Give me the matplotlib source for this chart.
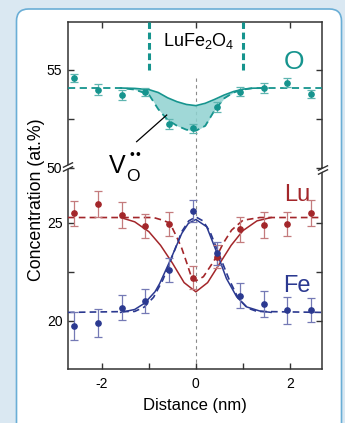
import numpy as np
import matplotlib.pyplot as plt
from matplotlib.patches import FancyBboxPatch, Polygon
from matplotlib.transforms import IdentityTransform
from matplotlib.lines import Line2D

plt.rcParams['font.family'] = ['Liberation Sans', 'DejaVu Sans']
plt.rcParams['mathtext.fontset'] = 'custom'
plt.rcParams['mathtext.rm'] = 'Liberation Sans'
plt.rcParams['mathtext.it'] = 'Liberation Sans:italic'

# measured points (distance in nm, concentration in at.%)
x_pts = [-2.6, -2.08, -1.58, -1.08, -0.57, -0.07, 0.44, 0.94, 1.44, 1.94, 2.44]
o_pts = [54.58, 54.0, 53.74, 53.88, 52.23, 52.02, 53.13, 53.9, 54.08, 54.35, 53.78]
o_err = [0.2, 0.26, 0.25, 0.22, 0.25, 0.22, 0.25, 0.25, 0.25, 0.22, 0.22]
lu_pts = [25.48, 25.97, 25.41, 24.85, 24.93, 22.2, 23.27, 24.66, 24.88, 24.95, 25.51]
lu_err = [0.65, 0.65, 0.65, 0.6, 0.6, 0.6, 0.6, 0.65, 0.65, 0.6, 0.65]
fe_pts = [19.74, 19.88, 20.68, 21.02, 22.6, 25.61, 23.44, 21.28, 20.85, 20.53, 20.56]
fe_err = [0.7, 0.7, 0.66, 0.6, 0.6, 0.55, 0.6, 0.65, 0.65, 0.7, 0.6]

# fitted profiles
o_fit_x = [-2.72, -1.6, -1.3, -1.0, -0.8, -0.6, -0.4, -0.2, 0.0, 0.2, 0.4, 0.6, 0.8, 1.0, 1.2, 1.5, 2.68]
o_dash = [54.08, 54.08, 54.0, 53.75, 53.0, 52.45, 52.15, 51.95, 51.9, 52.15, 52.95, 53.55, 53.85, 54.0, 54.07, 54.08, 54.08]
o_solid = [54.08, 54.06, 54.0, 53.85, 53.58, 53.38, 53.24, 53.18, 53.3, 53.5, 53.72, 53.9, 54.02, 54.07, 54.08]

lu_solid_x = [-1.6, -1.3, -1.0, -0.75, -0.5, -0.25, 0.0, 0.25, 0.5, 0.75, 1.0, 1.3, 1.6]
lu_solid = [25.27, 25.05, 24.55, 23.85, 22.95, 21.95, 21.48, 21.95, 22.9, 23.85, 24.6, 25.1, 25.27]
lu_dash_x = [-2.72, -0.9, -0.7, -0.55, -0.41, -0.3, -0.2, -0.09, 0.0, 0.16, 0.3, 0.44, 0.58, 0.76, 1.0, 1.36, 2.68]
lu_dash = [25.27, 25.27, 25.13, 24.98, 24.29, 23.7, 23.0, 22.2, 22.04, 22.25, 22.75, 23.27, 23.95, 24.63, 25.13, 25.27, 25.27]

fe_solid_x = [-1.6, -1.3, -1.09, -0.87, -0.77, -0.55, -0.3, -0.16, 0.0, 0.23, 0.44, 0.65, 0.87, 1.08, 1.36, 1.6]
fe_solid = [20.43, 20.58, 20.9, 21.48, 21.9, 23.06, 24.46, 24.97, 25.17, 24.8, 23.52, 22.16, 21.22, 20.71, 20.5, 20.43]
fe_dash_x = [-2.72, -1.3, -1.1, -0.9, -0.7, -0.5, -0.3, -0.15, 0.0, 0.15, 0.3, 0.5, 0.7, 0.9, 1.1, 1.3, 2.68]
fe_dash = [20.43, 20.48, 20.7, 21.2, 22.1, 23.3, 24.55, 25.1, 25.3, 25.1, 24.55, 23.35, 22.15, 21.15, 20.65, 20.48, 20.43]

film_edges = [-1, 1]
center_x = 0

teal, teal_lt, teal_fill = '#16948e', '#5fb5b0', '#8fd2d0'
red, red_lt = '#a3262a', '#c47b7d'
blue, blue_lt = '#2b3990', '#7479b5'
spine_c = '#333333'

fig = plt.figure(figsize=(3.45, 4.23), dpi=100)
fig.patch.set_facecolor('#dae8f2')
W, H = 345, 423

# white rounded panel
panel = FancyBboxPatch((16.5, -20), 325, H - 9 + 20, boxstyle='round,pad=0,rounding_size=12',
                       facecolor='white', edgecolor='#6aaed6', lw=1.2,
                       transform=IdentityTransform(), zorder=-5)
fig.patches.append(panel)

ax_top = fig.add_axes([0.197, 0.603, 0.736, 0.345])
ax_bot = fig.add_axes([0.197, 0.128, 0.736, 0.475])

for ax in (ax_top, ax_bot):
    ax.set_xlim(-2.72, 2.68)
    ax.set_facecolor('none')
    for s in ax.spines.values():
        s.set_color(spine_c)
        s.set_linewidth(1.1)
    ax.tick_params(direction='in', which='both', length=4, width=1, color=spine_c,
                   labelsize=10, left=True, right=True, pad=4)
    ax.axvline(center_x, color='#8a8a8a', lw=0.8, dashes=(3, 3), zorder=1,
               ymax=1 if ax is ax_bot else (54.7 - 50) / 7.45)

ax_top.set_ylim(50, 57.45)
ax_bot.set_ylim(17.55, 27.8)
ax_top.spines['bottom'].set_visible(False)
ax_bot.spines['top'].set_visible(False)
ax_top.set_yticks([50, 55])
ax_top.set_yticks([52.5], minor=True)
ax_bot.set_yticks([20, 25])
ax_bot.set_yticks([22.5], minor=True)
ax_top.set_xticks([-2, -1, 0, 1, 2])
ax_top.tick_params(axis='x', bottom=False, top=True, labelbottom=False)
ax_bot.set_xticks([-2, 0, 2])
ax_bot.set_xticks([-1, 1], minor=True)
ax_bot.set_xticklabels(['-2', '0', '2'])
ax_bot.tick_params(axis='x', bottom=True, top=False, which='both', pad=6)

ek = dict(fmt='o', ms=3.8, capsize=3, elinewidth=0.9, capthick=0.9, zorder=5)

# oxygen
ax_top.fill_between(o_fit_x[1:-1], o_solid, o_dash[1:-1], color=teal_fill, alpha=0.85, lw=0, zorder=2)
ax_top.plot(o_fit_x, o_dash, color=teal, lw=1.3, dashes=(4, 2.5), zorder=3)
ax_top.plot(o_fit_x[1:-1], o_solid, color=teal, lw=1.2, zorder=3)
ax_top.errorbar(x_pts, o_pts, yerr=o_err, color=teal, ecolor=teal_lt, **ek)
for xe in film_edges:
    ax_top.plot([xe, xe], [55, 57.45], color=teal, lw=2.2, dashes=(2.2, 1.2), zorder=4)
ax_top.text(0.07, 56.5, r'LuFe$_2$O$_4$', ha='center', va='center', fontsize=13)
ax_top.text(2.08, 55.4, 'O', ha='center', va='center', fontsize=19, color=teal)
ax_top.plot([-1.26, -0.62], [51.34, 52.7], color='black', lw=0.9, zorder=6)

# oxygen vacancy label V_O with two dots
fig.text(109 / W, 1 - 173 / H, 'V', fontsize=18, va='baseline', ha='left')
fig.text(126 / W, 1 - 181 / H, 'O', fontsize=12.5, va='baseline', ha='left')
for xd in (131.5, 137.5):
    fig.text(xd / W, 1 - 155 / H, '\u2022', fontsize=10, va='center', ha='center')

# Lu and Fe
ax_bot.plot(lu_dash_x, lu_dash, color=red, lw=1.2, dashes=(4, 2.5), zorder=3)
ax_bot.plot(lu_solid_x, lu_solid, color=red, lw=1.1, zorder=3)
ax_bot.plot(fe_dash_x, fe_dash, color=blue, lw=1.2, dashes=(4, 2.5), zorder=3)
ax_bot.plot(fe_solid_x, fe_solid, color=blue, lw=1.1, zorder=3)
ax_bot.errorbar(x_pts, lu_pts, yerr=lu_err, color=red, ecolor=red_lt, **ek)
ax_bot.errorbar(x_pts, fe_pts, yerr=fe_err, color=blue, ecolor=blue_lt, **ek)
ax_bot.text(2.15, 26.4, 'Lu', ha='center', va='center', fontsize=17, color=red)
ax_bot.text(2.15, 21.8, 'Fe', ha='center', va='center', fontsize=17, color=blue)

ax_bot.set_xlabel('Distance (nm)', fontsize=12, labelpad=5)
fig.text(37 / W, 1 - 200 / H, 'Concentration (at.%)', rotation=90, ha='center', va='center',
         fontsize=12.8)


# axis break marks (figure pixels, y measured from the top)
def draw_break(xc, yc):
    yd = H - yc
    gap = Polygon([(xc - 4, yd - 3.5), (xc + 4, yd + 0.5), (xc + 4, yd + 3.5), (xc - 4, yd - 0.5)],
                  closed=True, facecolor='white', edgecolor='none', transform=IdentityTransform(), zorder=10)
    fig.patches.append(gap)
    for dy in (-2, 2):
        fig.lines.append(Line2D([xc - 4.5, xc + 4.5], [yd + dy - 2.2, yd + dy + 2.2], color=spine_c,
                                lw=1.0, transform=IdentityTransform(), zorder=11))


draw_break(68, 167)
draw_break(323, 170)

fig.savefig('out.png', dpi=100)
